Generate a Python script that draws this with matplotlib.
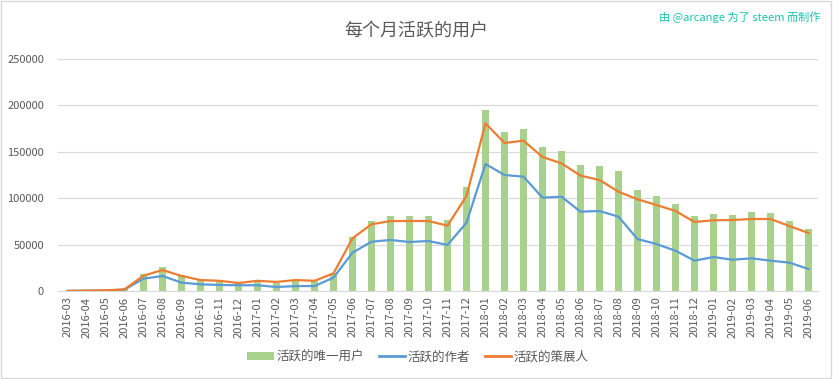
import matplotlib
matplotlib.use("Agg")
import matplotlib.pyplot as plt
from matplotlib.patches import Patch
from matplotlib.lines import Line2D

plt.rcParams['font.family'] = ['Noto Sans CJK SC', 'DejaVu Sans']

months = ["2016-03","2016-04","2016-05","2016-06","2016-07","2016-08","2016-09","2016-10",
          "2016-11","2016-12","2017-01","2017-02","2017-03","2017-04","2017-05","2017-06",
          "2017-07","2017-08","2017-09","2017-10","2017-11","2017-12","2018-01","2018-02",
          "2018-03","2018-04","2018-05","2018-06","2018-07","2018-08","2018-09","2018-10",
          "2018-11","2018-12","2019-01","2019-02","2019-03","2019-04","2019-05","2019-06"]

unique_users = [200, 500, 800, 2000, 18000, 26000, 17000, 11800, 11000, 9000, 10400, 9000,
                11800, 10400, 19500, 58200, 75400, 80800, 80800, 80800, 76200, 112000, 195000, 171300,
                174200, 155200, 150900, 135800, 134700, 129300, 108800, 102400, 93700, 80800, 83000, 81900,
                85100, 84000, 75400, 66800]
authors = [100, 300, 500, 1500, 13300, 16200, 9000, 7200, 6500, 6200, 6200, 4300,
           5300, 5300, 14400, 41300, 53100, 55000, 52800, 53900, 49600, 73600, 136900, 125000,
           123200, 100600, 101600, 85500, 86200, 80100, 56000, 50600, 43400, 32700, 36600, 33700,
           35200, 32700, 30500, 23700]
curators = [100, 400, 700, 1800, 16500, 22600, 16200, 11800, 11000, 8600, 11000, 9800,
            11800, 11000, 19000, 56800, 71900, 75400, 75400, 75400, 70400, 102400, 180700, 159500,
            162000, 144400, 137600, 124300, 119600, 107000, 98800, 92700, 86200, 74400, 76200, 76500,
            77600, 77600, 70000, 62500]

yticks = [0, 50000, 100000, 150000, 200000, 250000]

green = "#a9d18e"
blue = "#5b9bd5"
orange = "#ed7d31"
gray = "#595959"

fig = plt.figure(figsize=(8.33, 3.79), dpi=100)
ax = fig.add_axes([58/833, 1-291/379, 760/833, 232/379])

x = list(range(len(months)))
ax.bar(x, unique_users, width=0.42, color=green, zorder=2)
ax.plot(x, authors, color=blue, lw=1.6, zorder=3, solid_joinstyle='round')
ax.plot(x, curators, color=orange, lw=1.6, zorder=4, solid_joinstyle='round')

ax.set_xlim(-0.5, len(months) - 0.5)
ax.set_ylim(0, 250000)
ax.set_yticks(yticks)
ax.set_yticklabels([str(v) for v in yticks])
ax.set_xticks(x)
ax.set_xticklabels(months, rotation=90)
ax.grid(axis='y', color='#d9d9d9', lw=0.8, zorder=0)
for s in ['top', 'right', 'left']:
    ax.spines[s].set_visible(False)
ax.spines['bottom'].set_color('#d9d9d9')
ax.tick_params(axis='both', length=0, colors=gray, labelsize=8)
ax.tick_params(axis='y', pad=10)
ax.tick_params(axis='x', pad=4)

fig.text(0.5, 1-31/379, "每个月活跃的用户", ha='center', va='center', fontsize=13,
         color=gray, fontweight='light')
fig.text(820/833, 1-17/379, "由 @arcange 为了 steem 而制作", ha='right', va='center',
         fontsize=8, color="#19c3b0")

handles = [Patch(facecolor=green, edgecolor='none'),
           Line2D([0], [0], color=blue, lw=2),
           Line2D([0], [0], color=orange, lw=2)]
labels = ["活跃的唯一用户", "活跃的作者", "活跃的策展人"]
fig.legend(handles, labels, loc='center', bbox_to_anchor=(418/833, 1-357/379), ncol=3,
           frameon=False, fontsize=9, labelcolor=gray, handlelength=2.1, handleheight=0.6,
           columnspacing=1.2, handletextpad=0.2)

border = plt.Rectangle((0.001, 0.002), 0.997, 0.995, transform=fig.transFigure,
                       fill=False, edgecolor='#d9d9d9', lw=1)
fig.patches.append(border)

fig.savefig("out.png", dpi=100)
